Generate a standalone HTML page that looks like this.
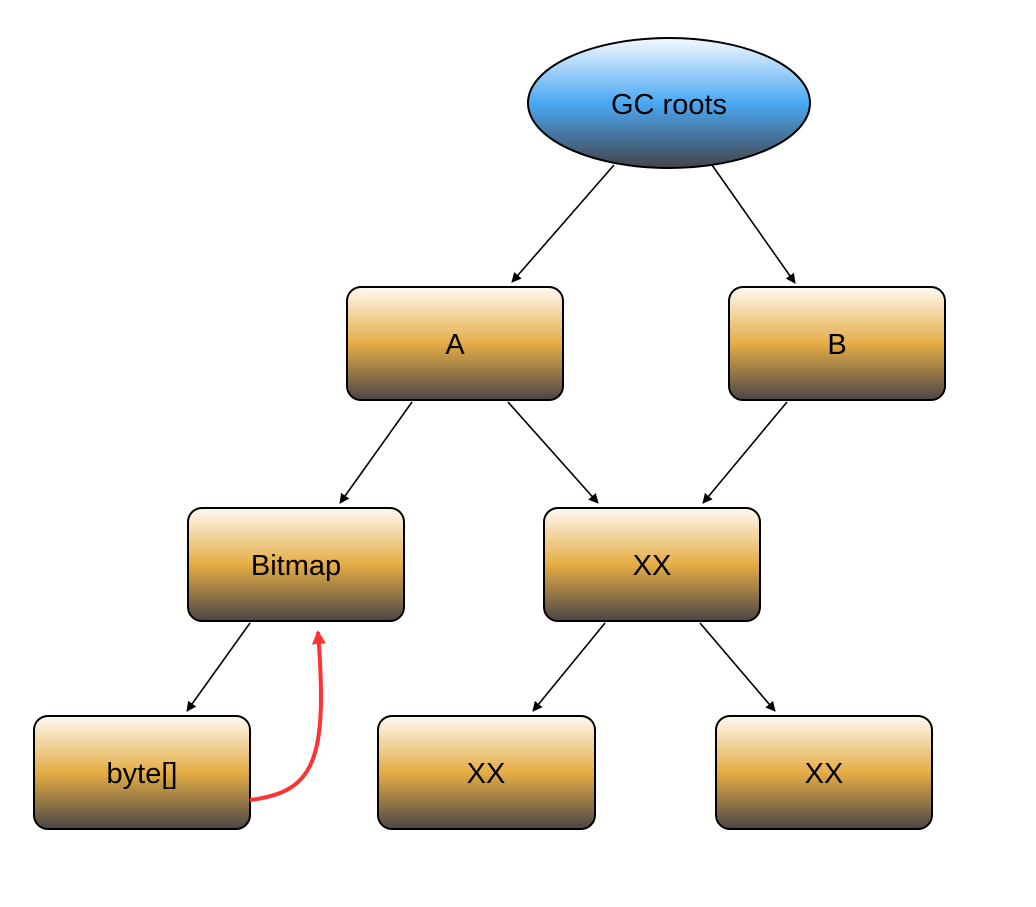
<!DOCTYPE html>
<html><head><style>html,body{margin:0;padding:0;background:#fff;}</style></head>
<body>
<svg width="1036" height="902" viewBox="0 0 1036 902" xmlns="http://www.w3.org/2000/svg">
<defs>
<linearGradient id="g" x1="0" y1="0" x2="0" y2="1">
<stop offset="0" stop-color="#fefaf2"/>
<stop offset="0.5" stop-color="#e5ad45"/>
<stop offset="1" stop-color="#4a4646"/>
</linearGradient>
<linearGradient id="b" x1="0" y1="0" x2="0" y2="1">
<stop offset="0" stop-color="#f4f9fe"/>
<stop offset="0.5" stop-color="#4aa8f3"/>
<stop offset="1" stop-color="#44434a"/>
</linearGradient>
<marker id="ar" markerWidth="10" markerHeight="10" refX="9" refY="5" orient="auto" markerUnits="userSpaceOnUse" viewBox="0 0 10 10"><path d="M0,0 L10,5 L0,10 z" fill="#000"/></marker>
<marker id="rr" markerWidth="14" markerHeight="14" refX="12" refY="7" orient="auto" markerUnits="userSpaceOnUse" viewBox="0 0 14 14"><path d="M0,0 L14,7 L0,14 z" fill="#f33"/></marker>
</defs>
<g stroke="#000" stroke-width="1.6" fill="none" marker-end="url(#ar)">
<line x1="614" y1="165" x2="512" y2="282"/>
<line x1="712" y1="165" x2="795" y2="283"/>
<line x1="412" y1="402" x2="340" y2="503"/>
<line x1="508" y1="402" x2="598" y2="503"/>
<line x1="787" y1="402" x2="703" y2="503"/>
<line x1="250" y1="623" x2="187" y2="711"/>
<line x1="605" y1="623" x2="533" y2="711"/>
<line x1="700" y1="623" x2="775" y2="711"/>
</g>
<ellipse cx="669" cy="103" rx="141" ry="65" fill="url(#b)" stroke="#000" stroke-width="2"/>
<g fill="url(#g)" stroke="#000" stroke-width="2">
<rect x="347" y="287" width="216" height="113" rx="14"/>
<rect x="729" y="287" width="216" height="113" rx="14"/>
<rect x="188" y="508" width="216" height="113" rx="14"/>
<rect x="544" y="508" width="216" height="113" rx="14"/>
<rect x="34" y="716" width="216" height="113" rx="14"/>
<rect x="378" y="716" width="217" height="113" rx="14"/>
<rect x="716" y="716" width="216" height="113" rx="14"/>
</g>
<path d="M250,800 C315,792 328,760 318,632" stroke="#f33" stroke-width="4" fill="none" marker-end="url(#rr)"/>
<g font-family="Liberation Sans, sans-serif" font-size="29" text-anchor="middle" fill="#000">
<text x="669" y="114">GC roots</text>
<text x="455" y="354">A</text>
<text x="837" y="354">B</text>
<text x="296" y="575">Bitmap</text>
<text x="652" y="575">XX</text>
<text x="142" y="783">byte[]</text>
<text x="486" y="783">XX</text>
<text x="824" y="783">XX</text>
</g>
</svg>
</body></html>
